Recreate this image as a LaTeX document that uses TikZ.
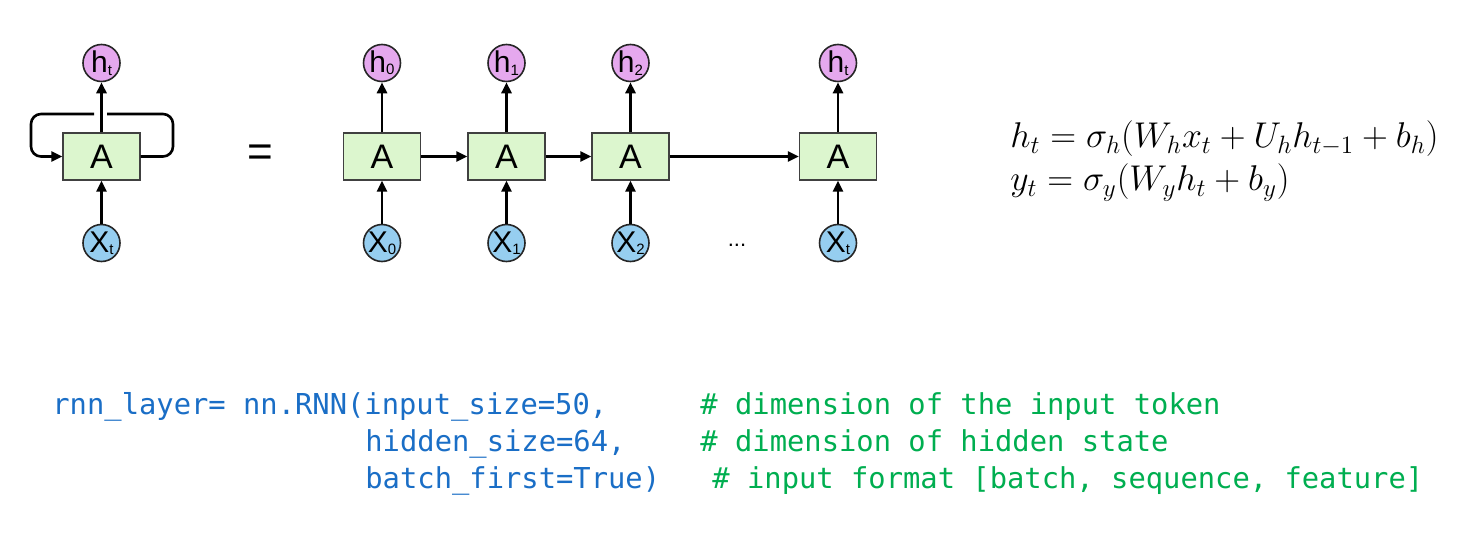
\RequirePackage{fix-cm}
\documentclass[tikz,border=0pt]{standalone}
\usepackage{amsmath}
\usepackage{fontspec}
\setsansfont{Liberation Sans}
\setmonofont{DejaVu Sans Mono}
\usepackage{tikz}
\usetikzlibrary{arrows.meta,positioning,calc}
\definecolor{cellgreen}{RGB}{220,246,206}
\definecolor{hpink}{RGB}{229,168,238}
\definecolor{xblue}{RGB}{150,206,240}
\definecolor{codeblue}{RGB}{26,110,198}
\definecolor{codegreen}{RGB}{0,174,80}
\newcommand{\sv}[2]{#1\raisebox{-1.2pt}{\fontsize{7.5}{7.5}\selectfont #2}}
\tikzset{
  cell/.style  = {draw=black!75, fill=cellgreen, line width=0.6pt,
                  minimum width=38.5pt, minimum height=23.5pt, inner sep=0pt,
                  font=\sffamily\fontsize{17}{17}\selectfont},
  hst/.style   = {circle, draw=black!85, fill=hpink, line width=0.8pt,
                  minimum size=18.5pt, inner sep=0pt,
                  font=\sffamily\fontsize{15}{15}\selectfont},
  xin/.style   = {hst, fill=xblue},
  ar/.style    = {-{Triangle[length=5.5pt,width=5pt]}, line width=1.3pt},
  ln/.style    = {line width=1.3pt},
  code/.style  = {anchor=base west, inner sep=0pt, text=codeblue,
                  font=\ttfamily\fontsize{14.4}{14.4}\selectfont},
  cmt/.style   = {code, text=codegreen}
}
\begin{document}
\begin{tikzpicture}[x=0.5pt, y=-0.5pt]
\useasboundingbox (0,0) rectangle (1467,535);

% folded cell
\node[cell] (Af) at (101.5,156.5) {A};
\node[hst] (hf) at (101.5,63) {\sv{h}{t}};
\node[xin] (xf) at (101.5,243) {\sv{X}{t}};
\draw[ar] (xf) -- (Af);
\draw[ar] (Af) -- (hf);
\coordinate (gapR) at (107,114);
\coordinate (gapL) at (94,114);
\draw[ln, rounded corners=5] (Af.east) -- (173,156.5) -- (173,114) -- (gapR);
\draw[ar, rounded corners=5] (gapL) -- (31,114) -- (31,156.5) -- (Af.west);

\node[font=\sffamily\fontsize{22}{22}\selectfont] (eq) at (260,156) {=};

% unrolled chain
\node[cell] (A0) at (382,156.5) {A};
\node[cell] (A1) at (506.5,156.5) {A};
\node[cell] (A2) at (630.5,156.5) {A};
\node[cell] (At) at (838,156.5) {A};
\node[hst] (h0) at (382,63) {\sv{h}{0}};
\node[hst] (h1) at (506.5,63) {\sv{h}{1}};
\node[hst] (h2) at (630.5,63) {\sv{h}{2}};
\node[hst] (ht) at (838,63) {\sv{h}{t}};
\node[xin] (x0) at (382,243) {\sv{X}{0}};
\node[xin] (x1) at (506.5,243) {\sv{X}{1}};
\node[xin] (x2) at (630.5,243) {\sv{X}{2}};
\node[xin] (xt) at (838,243) {\sv{X}{t}};
\node[font=\sffamily\fontsize{11}{11}\selectfont] (dots) at (737,245) {...};

\draw[ar] (x0) -- (A0);
\draw[ar] (x1) -- (A1);
\draw[ar] (x2) -- (A2);
\draw[ar] (xt) -- (At);
\draw[ar] (A0) -- (h0);
\draw[ar] (A1) -- (h1);
\draw[ar] (A2) -- (h2);
\draw[ar] (At) -- (ht);
\draw[ar] (A0) -- (A1);
\draw[ar] (A1) -- (A2);
\draw[ar] (A2) -- (At);

% update equations
\node[anchor=west, align=left, inner sep=0pt,
      font=\fontsize{17.9}{21.5}\selectfont] (eqs) at (1010,161)
  {$h_t = \sigma_h(W_h x_t + U_h h_{t-1} + b_h)$\\
   $y_t = \sigma_y(W_y h_t + b_y)$};

% pytorch call
\node[code] (c1) at (52,414) {rnn\_layer= nn.RNN(input\_size=50,};
\node[code] (c2) at (365,451) {hidden\_size=64,};
\node[code] (c3) at (365,488) {batch\_first=True)};
\node[cmt] (k1) at (700,414) {\# dimension of the input token};
\node[cmt] (k2) at (700,451) {\# dimension of hidden state};
\node[cmt] (k3) at (712,488) {\# input format [batch, sequence, feature]};
\end{tikzpicture}
\end{document}
